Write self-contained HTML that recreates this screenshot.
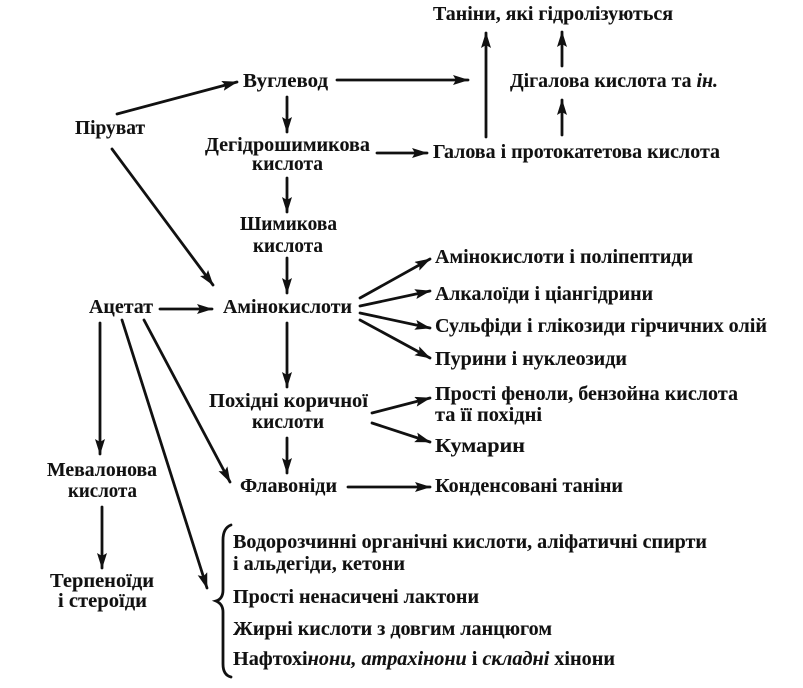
<!DOCTYPE html>
<html><head><meta charset="utf-8"><style>
html,body{margin:0;padding:0;background:#fff;}
svg{display:block;}
text{font-family:"Liberation Serif","DejaVu Serif",serif;font-size:20.5px;font-weight:bold;fill:#111;stroke:#111;stroke-width:0.1px;}
.l{stroke:#111;stroke-width:2.8;fill:none;stroke-linecap:round;}
</style></head><body>
<svg width="803" height="688" viewBox="0 0 803 688" xmlns="http://www.w3.org/2000/svg">
<defs>
<marker id="a" markerUnits="userSpaceOnUse" markerWidth="18" markerHeight="12" refX="15" refY="5" orient="auto">
<path d="M0,0 L16,5 L0,10 L3,5 Z" fill="#111"/>
</marker>
</defs>
<g class="l" marker-end="url(#a)">
<line x1="117" y1="114" x2="237" y2="82"/>
<line x1="337" y1="80" x2="468" y2="80"/>
<line x1="287" y1="97" x2="287" y2="132"/>
<line x1="377" y1="153" x2="427" y2="153"/>
<line x1="287" y1="178" x2="287" y2="212"/>
<line x1="112" y1="149" x2="213" y2="285"/>
<line x1="486" y1="137" x2="486" y2="33"/>
<line x1="562" y1="66" x2="562" y2="32"/>
<line x1="562" y1="135" x2="562" y2="100"/>
<line x1="287" y1="258" x2="287" y2="293"/>
<line x1="160" y1="309" x2="212" y2="309"/>
<line x1="287" y1="323" x2="287" y2="387"/>
<line x1="287" y1="438" x2="287" y2="473"/>
<line x1="348" y1="487" x2="430" y2="487"/>
<line x1="100" y1="323" x2="100" y2="454"/>
<line x1="122" y1="320" x2="207" y2="588"/>
<line x1="144" y1="320" x2="230" y2="482"/>
<line x1="360" y1="298" x2="430" y2="259"/>
<line x1="360" y1="306" x2="430" y2="291"/>
<line x1="360" y1="313" x2="430" y2="328"/>
<line x1="360" y1="320" x2="430" y2="358"/>
<line x1="372" y1="413" x2="430" y2="398"/>
<line x1="372" y1="423" x2="430" y2="442"/>
<line x1="102" y1="507" x2="102" y2="568"/>
</g>
<path class="l" d="M231,525 Q223,528 223,540 L223,590 Q223,599 216,601 Q223,604 223,612 L223,664 Q223,675 231,677"/>

<text x="433" y="20" textLength="240" lengthAdjust="spacingAndGlyphs">Таніни, які гідролізуються</text>
<text x="243" y="87" textLength="85" lengthAdjust="spacingAndGlyphs">Вуглевод</text>
<text x="510" y="87" textLength="208" lengthAdjust="spacingAndGlyphs">Дігалова кислота та <tspan font-style="italic">ін.</tspan></text>
<text x="75" y="134" textLength="70" lengthAdjust="spacingAndGlyphs">Піруват</text>
<text x="205" y="151" textLength="165" lengthAdjust="spacingAndGlyphs">Дегідрошимикова</text>
<text x="252" y="170" textLength="71" lengthAdjust="spacingAndGlyphs">кислота</text>
<text x="433" y="158" textLength="287" lengthAdjust="spacingAndGlyphs">Галова і протокатетова кислота</text>
<text x="240" y="230" textLength="97" lengthAdjust="spacingAndGlyphs">Шимикова</text>
<text x="253" y="252" textLength="70" lengthAdjust="spacingAndGlyphs">кислота</text>
<text x="435" y="263" textLength="258" lengthAdjust="spacingAndGlyphs">Амінокислоти і поліпептиди</text>
<text x="435" y="300" textLength="218" lengthAdjust="spacingAndGlyphs">Алкалоїди і ціангідрини</text>
<text x="89" y="313" textLength="64" lengthAdjust="spacingAndGlyphs">Ацетат</text>
<text x="223" y="313" textLength="129" lengthAdjust="spacingAndGlyphs">Амінокислоти</text>
<text x="435" y="332" textLength="332" lengthAdjust="spacingAndGlyphs">Сульфіди і глікозиди гірчичних олій</text>
<text x="435" y="365" textLength="192" lengthAdjust="spacingAndGlyphs">Пурини і нуклеозиди</text>
<text x="435" y="400" textLength="303" lengthAdjust="spacingAndGlyphs">Прості феноли, бензойна кислота</text>
<text x="209" y="407" textLength="159" lengthAdjust="spacingAndGlyphs">Похідні коричної</text>
<text x="435" y="421" textLength="107" lengthAdjust="spacingAndGlyphs">та її похідні</text>
<text x="252" y="428" textLength="72" lengthAdjust="spacingAndGlyphs">кислоти</text>
<text x="435" y="452" textLength="90" lengthAdjust="spacingAndGlyphs">Кумарин</text>
<text x="47" y="476" textLength="110" lengthAdjust="spacingAndGlyphs">Мевалонова</text>
<text x="240" y="492" textLength="97" lengthAdjust="spacingAndGlyphs">Флавоніди</text>
<text x="435" y="492" textLength="188" lengthAdjust="spacingAndGlyphs">Конденсовані таніни</text>
<text x="68" y="497" textLength="69" lengthAdjust="spacingAndGlyphs">кислота</text>
<text x="233" y="548" textLength="474" lengthAdjust="spacingAndGlyphs">Водорозчинні органічні кислоти, аліфатичні спирти</text>
<text x="233" y="570" textLength="172" lengthAdjust="spacingAndGlyphs">і альдегіди, кетони</text>
<text x="50" y="587" textLength="104" lengthAdjust="spacingAndGlyphs">Терпеноїди</text>
<text x="58" y="607" textLength="89" lengthAdjust="spacingAndGlyphs">і стероїди</text>
<text x="233" y="603" textLength="246" lengthAdjust="spacingAndGlyphs">Прості ненасичені лактони</text>
<text x="233" y="635" textLength="319" lengthAdjust="spacingAndGlyphs">Жирні кислоти з довгим ланцюгом</text>
<text x="233" y="665" textLength="382" lengthAdjust="spacingAndGlyphs">Нафтохі<tspan font-style="italic">нони, атрахінони</tspan> і <tspan font-style="italic">складні</tspan> хінони</text>
</svg>
</body></html>
